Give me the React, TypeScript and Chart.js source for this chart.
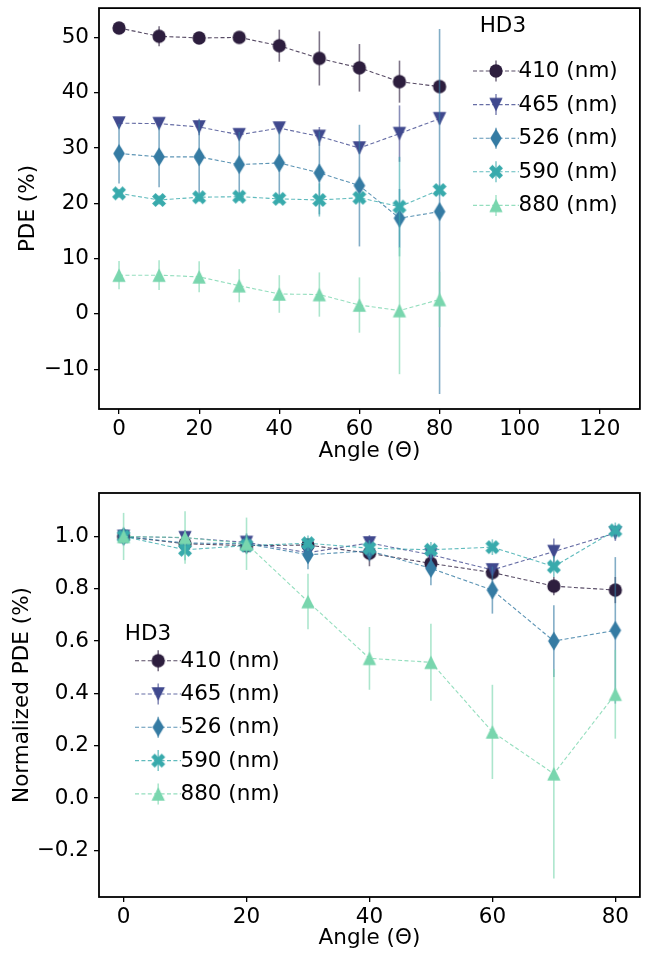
import React, { useEffect, useRef } from "react";
import { Chart, registerables } from "chart.js";

Chart.register(...registerables);

// ---------------- data ----------------
const angles = [0, 10, 20, 30, 40, 50, 60, 70, 80];
const seriesLabels = ["410 (nm)", "465 (nm)", "526 (nm)", "590 (nm)", "880 (nm)"];
const seriesColors = ["#2d1e3e", "#40498e", "#357ba3", "#38aaac", "#79d6ae"];
const markerShapes = ["circle", "triangleDown", "thinDiamond", "xFilled", "triangleUp"];
const legendTitle = "HD3";

// PDE (%) values and error half-widths
const pde410 = [51.7, 50.2, 49.9, 50.0, 48.5, 46.2, 44.5, 42.0, 41.1];
const pde465 = [34.5, 34.4, 33.8, 32.4, 33.6, 32.1, 30.0, 32.6, 35.3];
const pde526 = [29.0, 28.4, 28.4, 27.0, 27.3, 25.5, 23.2, 17.3, 18.5];
const pde590 = [21.8, 20.6, 21.1, 21.2, 20.8, 20.6, 21.0, 19.4, 22.4];
const pde880 = [7.0, 7.0, 6.7, 5.1, 3.6, 3.5, 1.6, 0.6, 2.6];

const pdeErr410 = [0.6, 1.8, 0.6, 0.6, 2.9, 4.9, 4.3, 3.8, 1.0];
const pdeErr465 = [0.8, 0.8, 1.5, 0.8, 0.8, 1.7, 1.0, 5.1, 1.0];
const pdeErr526 = [5.4, 5.5, 6.6, 5.9, 5.9, 7.5, 11.0, 5.3, 33.0];
const pdeErr590 = [0.8, 0.8, 0.8, 0.8, 0.8, 3.0, 1.0, 9.0, 1.0];
const pdeErr880 = [2.55, 2.7, 2.8, 3.0, 3.4, 4.0, 5.0, 11.5, 5.0];

// Normalized PDE values and error half-widths
const norm410 = [1.0, 0.972, 0.965, 0.967, 0.936, 0.897, 0.862, 0.81, 0.795];
const norm465 = [1.0, 0.995, 0.977, 0.938, 0.975, 0.93, 0.872, 0.942, 1.013];
const norm526 = [1.0, 0.975, 0.972, 0.93, 0.945, 0.878, 0.795, 0.6, 0.641];
const norm590 = [1.0, 0.949, 0.965, 0.974, 0.955, 0.949, 0.959, 0.885, 1.023];
const norm880 = [1.0, 0.996, 0.972, 0.751, 0.534, 0.519, 0.253, 0.093, 0.397];

const normErr410 = [0.02, 0.035, 0.02, 0.02, 0.05, 0.03, 0.03, 0.035, 0.05];
const normErr465 = [0.03, 0.03, 0.03, 0.03, 0.03, 0.03, 0.02, 0.05, 0.03];
const normErr526 = [0.03, 0.03, 0.04, 0.055, 0.04, 0.065, 0.09, 0.137, 0.28];
const normErr590 = [0.03, 0.04, 0.03, 0.03, 0.03, 0.03, 0.03, 0.04, 0.03];
const normErr880 = [0.09, 0.1, 0.1, 0.106, 0.12, 0.147, 0.18, 0.4, 0.17];

// axes
const topXTicks = [0, 20, 40, 60, 80, 100, 120];
const topYTicks = [-10, 0, 10, 20, 30, 40, 50];
const bottomXTicks = [0, 20, 40, 60, 80];
const bottomYTicks = [-0.2, 0, 0.2, 0.4, 0.6, 0.8, 1.0];
const xTitle = "Angle (\u0398)";
const topYTitle = "PDE (%)";
const bottomYTitle = "Normalized PDE (%)";

// ---------------- helpers ----------------
const FONT = "'DejaVu Sans', 'Liberation Sans', sans-serif";
const FS = 21.5;

function rgba(hex: string, a: number) {
  const n = parseInt(hex.slice(1), 16);
  return `rgba(${(n >> 16) & 255},${(n >> 8) & 255},${n & 255},${a})`;
}

function makeMarker(shape: string, color: string) {
  const c = document.createElement("canvas");
  const S = 26;
  c.width = S;
  c.height = S;
  const ctx = c.getContext("2d")!;
  ctx.fillStyle = color;
  const cx = S / 2;
  const cy = S / 2;
  const m = 13.3;
  ctx.beginPath();
  if (shape === "circle") {
    ctx.arc(cx, cy, m / 2, 0, Math.PI * 2);
  } else if (shape === "triangleDown") {
    ctx.moveTo(cx, cy + m / 2);
    ctx.lineTo(cx - m / 2, cy - m / 2);
    ctx.lineTo(cx + m / 2, cy - m / 2);
  } else if (shape === "triangleUp") {
    ctx.moveTo(cx, cy - m / 2);
    ctx.lineTo(cx - m / 2, cy + m / 2);
    ctx.lineTo(cx + m / 2, cy + m / 2);
  } else if (shape === "thinDiamond") {
    ctx.moveTo(cx, cy - 9.6);
    ctx.lineTo(cx + 5.8, cy);
    ctx.lineTo(cx, cy + 9.6);
    ctx.lineTo(cx - 5.8, cy);
  } else {
    const pts = [
      [0.25, 0], [0.5, 0.25], [0.75, 0], [1, 0.25], [0.75, 0.5], [1, 0.75],
      [0.75, 1], [0.5, 0.75], [0.25, 1], [0, 0.75], [0.25, 0.5], [0, 0.25],
    ];
    const s = 14;
    pts.forEach(([px, py], i) => {
      const X = cx + (px - 0.5) * s;
      const Y = cy + (py - 0.5) * s;
      if (i === 0) ctx.moveTo(X, Y);
      else ctx.lineTo(X, Y);
    });
  }
  ctx.closePath();
  ctx.fill();
  return c;
}

const fmtInt = (v: number) => String(Math.round(v)).replace("-", "\u2212");
const fmtOne = (v: number) => (Math.abs(v) < 1e-9 ? "0.0" : v.toFixed(1).replace("-", "\u2212"));

const errorBarPlugin = {
  id: "errorBars",
  beforeDatasetDraw(chart: any, args: any) {
    const ds = chart.data.datasets[args.index];
    const errs: number[] | undefined = ds.errors;
    if (!errs) return;
    const { ctx, chartArea } = chart;
    const xs = chart.scales.x;
    const ys = chart.scales.y;
    ctx.save();
    ctx.beginPath();
    ctx.rect(chartArea.left, chartArea.top, chartArea.right - chartArea.left, chartArea.bottom - chartArea.top);
    ctx.clip();
    ctx.strokeStyle = ds.errorColor;
    ctx.lineWidth = 1.6;
    ds.data.forEach((p: any, i: number) => {
      const px = xs.getPixelForValue(p.x);
      ctx.beginPath();
      ctx.moveTo(px, ys.getPixelForValue(p.y + errs[i]));
      ctx.lineTo(px, ys.getPixelForValue(p.y - errs[i]));
      ctx.stroke();
    });
    ctx.restore();
  },
};

const framePlugin = {
  id: "frameBox",
  afterDatasetsDraw(chart: any) {
    const { ctx, chartArea } = chart;
    ctx.save();
    ctx.strokeStyle = "#000";
    ctx.lineWidth = 1.8;
    ctx.strokeRect(chartArea.left, chartArea.top, chartArea.right - chartArea.left, chartArea.bottom - chartArea.top);
    ctx.restore();
  },
};

const legendPlugin = {
  id: "hdLegend",
  afterDraw(chart: any, _args: any, opts: any) {
    const { ctx } = chart;
    ctx.save();
    ctx.font = `${FS}px ${FONT}`;
    ctx.fillStyle = "#000";
    ctx.textBaseline = "middle";
    ctx.textAlign = "left";
    ctx.fillText(legendTitle, opts.titleX, opts.titleY + 0.4);
    chart.data.datasets.forEach((ds: any, i: number) => {
      const y = opts.row0 + i * opts.dy;
      ctx.save();
      ctx.strokeStyle = ds.borderColor;
      ctx.lineWidth = 1.1;
      ctx.setLineDash([4, 2.4]);
      ctx.beginPath();
      ctx.moveTo(opts.lineX0, y);
      ctx.lineTo(opts.lineX1, y);
      ctx.stroke();
      ctx.setLineDash([]);
      ctx.strokeStyle = ds.errorColor;
      ctx.lineWidth = 1.6;
      ctx.beginPath();
      ctx.moveTo(opts.markerX, y - 10.5);
      ctx.lineTo(opts.markerX, y + 10.5);
      ctx.stroke();
      const img = ds.pointStyle as HTMLCanvasElement;
      ctx.drawImage(img, opts.markerX - img.width / 2, y - img.height / 2);
      ctx.restore();
      ctx.fillStyle = "#000";
      ctx.fillText(ds.label, opts.textX, y + 0.4);
    });
    ctx.restore();
  },
};

function buildDatasets(values: number[][], errors: number[][]) {
  return values.map((vals, i) => ({
    label: seriesLabels[i],
    data: angles.map((a, k) => ({ x: a, y: vals[k] })),
    errors: errors[i],
    errorColor: rgba(seriesColors[i], 0.62),
    borderColor: rgba(seriesColors[i], 0.8),
    backgroundColor: seriesColors[i],
    pointBackgroundColor: seriesColors[i],
    pointBorderColor: seriesColors[i],
    borderWidth: 1.1,
    borderDash: [4, 2.4],
    pointStyle: makeMarker(markerShapes[i], seriesColors[i]),
    pointRadius: 7,
    pointHoverRadius: 7,
    fill: false,
    tension: 0,
    order: values.length - i,
  }));
}

interface AxisSpec {
  xMin: number;
  xMax: number;
  yMin: number;
  yMax: number;
  xTicks: number[];
  yTicks: number[];
  yFmt: (v: number) => string;
  yTitle: string;
  yTitlePad: number;
  xHeight: number;
  padding: { top: number; right: number; bottom: number; left: number };
  legend: any;
}

function makeConfig(datasets: any[], spec: AxisSpec): any {
  const tickFont = { family: FONT, size: FS };
  const grid = {
    display: true,
    drawOnChartArea: false,
    drawTicks: true,
    tickLength: 5,
    color: "#000",
    lineWidth: 1.3,
  };
  return {
    type: "line",
    data: { datasets },
    options: {
      responsive: false,
      animation: false,
      devicePixelRatio: 1,
      layout: { padding: spec.padding },
      plugins: {
        legend: { display: false },
        tooltip: { enabled: false },
        hdLegend: spec.legend,
      },
      scales: {
        x: {
          type: "linear",
          min: spec.xMin,
          max: spec.xMax,
          afterBuildTicks: (s: any) => {
            s.ticks = spec.xTicks.map((v) => ({ value: v }));
          },
          afterFit: (s: any) => {
            s.height = spec.xHeight;
            s.paddingLeft = 0;
            s.paddingRight = 0;
            s.paddingTop = 0;
            s.paddingBottom = 0;
          },
          ticks: {
            callback: (v: number) => fmtInt(v),
            color: "#000",
            font: tickFont,
            padding: 3,
            autoSkip: false,
            maxRotation: 0,
          },
          grid,
          border: { display: false },
          title: {
            display: true,
            text: xTitle,
            color: "#000",
            font: tickFont,
            padding: { top: 0, bottom: 0 },
          },
        },
        y: {
          type: "linear",
          min: spec.yMin,
          max: spec.yMax,
          afterBuildTicks: (s: any) => {
            s.ticks = spec.yTicks.map((v) => ({ value: v }));
          },
          afterFit: (s: any) => {
            s.width = 99;
            s.paddingLeft = 0;
            s.paddingRight = 0;
            s.paddingTop = 0;
            s.paddingBottom = 0;
          },
          ticks: {
            callback: (v: number) => spec.yFmt(v),
            color: "#000",
            font: tickFont,
            padding: 5,
            autoSkip: false,
          },
          grid,
          border: { display: false },
          title: {
            display: true,
            text: spec.yTitle,
            color: "#000",
            font: tickFont,
            padding: { top: spec.yTitlePad, bottom: 0 },
          },
        },
      },
    },
    plugins: [errorBarPlugin, framePlugin, legendPlugin],
  };
}

export default function App() {
  const topRef = useRef<HTMLCanvasElement>(null);
  const botRef = useRef<HTMLCanvasElement>(null);

  useEffect(() => {
    Chart.defaults.font.family = FONT;
    const topDatasets = buildDatasets(
      [pde410, pde465, pde526, pde590, pde880],
      [pdeErr410, pdeErr465, pdeErr526, pdeErr590, pdeErr880]
    );
    const botDatasets = buildDatasets(
      [norm410, norm465, norm526, norm590, norm880],
      [normErr410, normErr465, normErr526, normErr590, normErr880]
    );
    const c1 = new Chart(
      topRef.current!,
      makeConfig(topDatasets, {
        xMin: -5,
        xMax: 130,
        yMin: -17.2,
        yMax: 55.3,
        xTicks: topXTicks,
        yTicks: topYTicks,
        yFmt: fmtInt,
        yTitle: topYTitle,
        yTitlePad: 16,
        xHeight: 55,
        padding: { top: 5, right: 6, bottom: 13, left: 0 },
        legend: {
          titleX: 479.7,
          titleY: 25.8,
          row0: 71,
          dy: 33.6,
          lineX0: 473,
          lineX1: 519,
          markerX: 496,
          textX: 518.5,
        },
      })
    );
    const c2 = new Chart(
      botRef.current!,
      makeConfig(botDatasets, {
        xMin: -4,
        xMax: 84,
        yMin: -0.378,
        yMax: 1.166,
        xTicks: bottomXTicks,
        yTicks: bottomYTicks,
        yFmt: fmtOne,
        yTitle: bottomYTitle,
        yTitlePad: 10,
        xHeight: 54,
        padding: { top: 16, right: 6, bottom: 3, left: 0 },
        legend: {
          titleX: 124.8,
          titleY: 157.2,
          row0: 183.7,
          dy: 33.3,
          lineX0: 135,
          lineX1: 181,
          markerX: 158.2,
          textX: 180.5,
        },
      })
    );
    return () => {
      c1.destroy();
      c2.destroy();
    };
  }, []);

  return (
    <div style={{ position: "absolute", left: 0, top: 0, width: 648, height: 954, background: "#fff" }}>
      <canvas
        ref={topRef}
        width={648}
        height={477}
        style={{ position: "absolute", left: 0, top: 0, width: 648, height: 477 }}
      />
      <canvas
        ref={botRef}
        width={648}
        height={477}
        style={{ position: "absolute", left: 0, top: 477, width: 648, height: 477 }}
      />
    </div>
  );
}
